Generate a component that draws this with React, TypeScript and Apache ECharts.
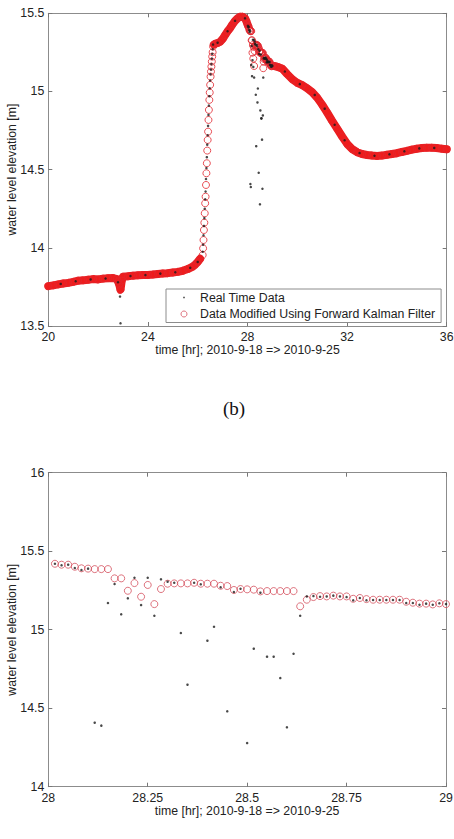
import React, { useEffect, useRef } from 'react';
import * as echarts from 'echarts';

const FONT = '"Liberation Sans", Arial, Helvetica, sans-serif';

// ---------- Panel (a): 20 - 36 hr ----------
// dense band before the rise (Kalman filtered data)
const bandATimes = [20.0, 20.2, 20.4, 20.6, 20.8, 21.0, 21.2, 21.4, 21.6, 21.8, 22.0, 22.2, 22.4, 22.6, 22.75, 22.8, 22.85, 22.9, 22.95, 23.0, 23.2, 23.4, 23.6, 23.8, 24.0, 24.2, 24.4, 24.6, 24.8, 25.0, 25.2, 25.4, 25.6, 25.8, 25.9, 26.0, 26.1];
const bandAValues = [13.755, 13.760, 13.766, 13.772, 13.776, 13.782, 13.790, 13.792, 13.796, 13.800, 13.798, 13.803, 13.806, 13.807, 13.800, 13.785, 13.765, 13.732, 13.790, 13.815, 13.818, 13.822, 13.824, 13.826, 13.826, 13.829, 13.833, 13.836, 13.838, 13.842, 13.846, 13.853, 13.864, 13.880, 13.893, 13.910, 13.930];
// real time readings visible as dark specks inside the band
const speckATimes = [20.5, 21.1, 21.7, 22.3, 22.8, 23.3, 23.9, 24.5, 25.1, 25.7, 26.0];
const speckAValues = [13.769, 13.786, 13.798, 13.804, 13.780, 13.820, 13.826, 13.835, 13.844, 13.872, 13.910];
// outliers of the real time data at the small dip
const dipOutlierTimes = [22.88, 22.9];
const dipOutlierValues = [13.688, 13.517];
// steep rise, one reading per minute
const riseTimes = [26.200, 26.217, 26.233, 26.250, 26.267, 26.283, 26.300, 26.317, 26.333, 26.350, 26.367, 26.383, 26.400, 26.417, 26.433, 26.450, 26.467, 26.483, 26.500, 26.517, 26.533, 26.550, 26.567, 26.583, 26.600, 26.617];
const riseKalman = [13.954, 13.997, 14.050, 14.114, 14.161, 14.221, 14.285, 14.327, 14.402, 14.477, 14.541, 14.622, 14.690, 14.743, 14.818, 14.882, 14.946, 14.993, 15.042, 15.095, 15.127, 15.159, 15.191, 15.223, 15.251, 15.287];
const riseReal = [13.975, 14.020, 14.080, 14.140, 14.190, 14.250, 14.310, 14.360, 14.440, 14.510, 14.580, 14.660, 14.720, 14.780, 14.850, 14.910, 14.970, 15.020, 15.070, 15.110, 15.140, 15.175, 15.210, 15.240, 15.270, 15.300];
// band from the shoulder to the peak
const bandCTimes = [26.65, 26.7, 26.8, 26.9, 27.0, 27.1, 27.2, 27.3, 27.4, 27.5, 27.6, 27.7, 27.8, 27.9, 27.95, 28.0];
const bandCValues = [15.300, 15.305, 15.310, 15.318, 15.335, 15.360, 15.385, 15.405, 15.430, 15.452, 15.468, 15.478, 15.478, 15.468, 15.452, 15.430];
const speckCTimes = [26.8, 27.2, 27.5, 27.9];
const speckCValues = [15.312, 15.385, 15.452, 15.468];
// band of the recession
const bandETimes = [29.1, 29.2, 29.4, 29.6, 29.8, 30.0, 30.2, 30.4, 30.6, 30.8, 31.0, 31.2, 31.4, 31.6, 31.8, 32.0, 32.2, 32.4, 32.6, 32.8, 33.0, 33.2, 33.4, 33.6, 33.8, 34.0, 34.2, 34.4, 34.6, 34.8, 35.0, 35.2, 35.4, 35.6, 35.8, 36.0];
const bandEValues = [15.162, 15.158, 15.145, 15.110, 15.078, 15.055, 15.040, 15.020, 14.995, 14.960, 14.915, 14.865, 14.812, 14.762, 14.712, 14.665, 14.632, 14.612, 14.600, 14.594, 14.590, 14.588, 14.590, 14.595, 14.600, 14.605, 14.613, 14.620, 14.628, 14.634, 14.638, 14.640, 14.640, 14.638, 14.634, 14.630];
const speckETimes = [29.5, 30.1, 30.7, 31.1, 31.5, 31.9, 32.5, 33.1, 33.7, 34.3, 34.9, 35.5];
const speckEValues = [15.128, 15.047, 14.978, 14.890, 14.787, 14.688, 14.606, 14.589, 14.598, 14.617, 14.636, 14.639];

// ---------- Panel (b): 28 - 29 hr, one reading per minute ----------
const zoomStart = 28;
const zoomKalman = [15.420, 15.414, 15.414, 15.401, 15.391, 15.389, 15.386, 15.386, 15.386, 15.327, 15.327, 15.248, 15.297, 15.210, 15.285, 15.163, 15.259, 15.293, 15.295, 15.295, 15.295, 15.299, 15.293, 15.293, 15.293, 15.280, 15.278, 15.253, 15.259, 15.257, 15.255, 15.244, 15.246, 15.246, 15.246, 15.246, 15.246, 15.149, 15.191, 15.208, 15.214, 15.212, 15.217, 15.212, 15.212, 15.197, 15.202, 15.195, 15.191, 15.191, 15.191, 15.191, 15.191, 15.178, 15.172, 15.166, 15.166, 15.161, 15.168, 15.163];
const zoomReal = [15.420, 15.410, 15.414, 15.393, 15.380, 15.389, 14.408, 14.389, 15.170, 15.291, 15.098, 15.200, 15.331, 15.157, 15.331, 15.089, 15.321, 15.306, 15.299, 14.979, 14.650, 15.299, 15.289, 14.930, 15.019, 15.270, 14.480, 15.240, 15.261, 14.278, 14.879, 15.236, 14.828, 14.828, 14.692, 14.378, 14.847, 15.089, 15.212, 15.214, 15.210, 15.212, 15.217, 15.212, 15.208, 15.187, 15.202, 15.187, 15.189, 15.189, 15.189, 15.189, 15.189, 15.170, 15.170, 15.159, 15.166, 15.159, 15.168, 15.163];
const zoomTimes = zoomKalman.map((_, i) => zoomStart + (i + 1) / 60);

const xTicksA = { min: 20, max: 36, interval: 4 };
const yTicksA = { min: 13.5, max: 15.5, interval: 0.5 };
const xTicksB = { min: 28, max: 29, interval: 0.25 };
const yTicksB = { min: 14, max: 16, interval: 0.5 };

const X_NAME = 'time [hr]; 2010-9-18 => 2010-9-25';
const Y_NAME = 'water level elevation [m]';
const S_REAL = 'Real Time Data';
const S_KAL = 'Data Modified Using Forward Kalman Filter';

const zip = (t: number[], v: number[]) => t.map((x, i) => [x, v[i]]);

const AXIS_COLOR = '#8c8c8c';
const TEXT_COLOR = '#222';
const BAND_RED = '#ee1c1c';
const RING_RED_A = '#e2262e';
const RING_RED_B = '#d4505e';
const DOT = '#1a1a1a';

function axisBase(extra: any) {
  return {
    type: 'value',
    axisLine: { show: true, onZero: false, lineStyle: { color: AXIS_COLOR, width: 1 } },
    axisTick: { show: true, inside: true, length: 4, lineStyle: { color: '#777' } },
    splitLine: { show: false },
    axisLabel: { color: TEXT_COLOR, fontSize: 12.3, fontFamily: FONT },
    ...extra,
  };
}

export default function App() {
  const ref = useRef<HTMLDivElement>(null);
  useEffect(() => {
    if (!ref.current) return;
    const chart = echarts.init(ref.current, undefined, { renderer: 'svg' });

    const kalmanA = [
      ...zip(bandATimes, bandAValues),
      ...zip(riseTimes, riseKalman),
      ...zip(bandCTimes, bandCValues),
      ...zip(zoomTimes, zoomKalman),
      ...zip(bandETimes, bandEValues),
    ];
    const realA = [
      ...zip(speckATimes, speckAValues),
      ...zip(dipOutlierTimes, dipOutlierValues),
      ...zip(riseTimes, riseReal),
      ...zip(speckCTimes, speckCValues),
      ...zip(zoomTimes, zoomReal),
      ...zip(speckETimes, speckEValues),
    ];

    const bandLine = (name: string, data: number[][]) => ({
      name,
      type: 'line',
      xAxisIndex: 0,
      yAxisIndex: 0,
      data,
      showSymbol: false,
      symbol: 'none',
      silent: true,
      z: 1,
      lineStyle: { color: BAND_RED, width: 8, cap: 'round', join: 'round' },
    });

    const yName = {
      name: Y_NAME, nameLocation: 'middle', nameGap: 30, nameRotate: 90, nameMoveOverlap: false,
      nameTextStyle: { color: TEXT_COLOR, fontSize: 12.3, fontFamily: FONT },
    };
    const xName = {
      name: X_NAME, nameLocation: 'middle', nameGap: 18, nameMoveOverlap: false,
      nameTextStyle: { color: TEXT_COLOR, fontSize: 12.3, fontFamily: FONT },
    };

    const option: any = {
      animation: false,
      backgroundColor: '#fff',
      textStyle: { fontFamily: FONT },
      grid: [
        { left: 48.3, top: 13.3, width: 398.4, height: 312.7, containLabel: false, outerBoundsMode: 'none' },
        { left: 48.3, top: 472.7, width: 397.7, height: 314, containLabel: false, outerBoundsMode: 'none' },
      ],
      xAxis: [
        axisBase({
          gridIndex: 0, position: 'bottom', ...xTicksA,
          axisLabel: { color: TEXT_COLOR, fontSize: 12.3, fontFamily: FONT, margin: 5 },
          ...xName,
        }),
        axisBase({ gridIndex: 0, position: 'top', ...xTicksA, axisLabel: { show: false } }),
        axisBase({
          gridIndex: 1, position: 'bottom', ...xTicksB,
          axisLabel: { color: TEXT_COLOR, fontSize: 12.3, fontFamily: FONT, margin: 5 },
          ...xName,
        }),
        axisBase({ gridIndex: 1, position: 'top', ...xTicksB, axisLabel: { show: false } }),
      ],
      yAxis: [
        axisBase({
          gridIndex: 0, position: 'left', ...yTicksA,
          axisLabel: { color: TEXT_COLOR, fontSize: 12.3, fontFamily: FONT, margin: 4 },
          ...yName,
        }),
        axisBase({ gridIndex: 0, position: 'right', ...yTicksA, axisLabel: { show: false } }),
        axisBase({
          gridIndex: 1, position: 'left', ...yTicksB,
          axisLabel: { color: TEXT_COLOR, fontSize: 12.3, fontFamily: FONT, margin: 4 },
          ...yName,
        }),
        axisBase({ gridIndex: 1, position: 'right', ...yTicksB, axisLabel: { show: false } }),
      ],
      legend: {
        show: true,
        orient: 'vertical',
        left: 166,
        top: 289,
        selectedMode: false,
        backgroundColor: '#fff',
        borderColor: AXIS_COLOR,
        borderWidth: 1,
        borderRadius: 0,
        padding: [1.5, 6, 1.5, 7],
        itemWidth: 22,
        itemHeight: 6,
        itemGap: 2.5,
        textStyle: { color: TEXT_COLOR, fontSize: 12.3, fontFamily: FONT, lineHeight: 14 },
        data: [
          { name: S_REAL, icon: 'path://M0,0M22,6M10.2,2.2h1.6v1.6h-1.6z' },
          { name: S_KAL, icon: 'circle', itemStyle: { color: 'rgba(0,0,0,0)', borderColor: RING_RED_B, borderWidth: 1 } },
        ],
      },
      graphic: [
        {
          type: 'text',
          x: 234,
          y: 408,
          style: {
            text: '(b)',
            font: '19px "Liberation Serif", "Times New Roman", serif',
            fill: '#111',
            textAlign: 'center',
            textVerticalAlign: 'middle',
          },
        },
      ],
      series: [
        bandLine('bandA', zip(bandATimes, bandAValues)),
        bandLine('bandC', zip(bandCTimes, bandCValues)),
        bandLine('bandE', zip(bandETimes, bandEValues)),
        {
          name: S_KAL, type: 'scatter', xAxisIndex: 0, yAxisIndex: 0,
          data: kalmanA, symbol: 'circle', symbolSize: 7, z: 2,
          itemStyle: { color: 'rgba(0,0,0,0)', borderColor: RING_RED_A, borderWidth: 1 },
        },
        {
          name: S_REAL, type: 'scatter', xAxisIndex: 0, yAxisIndex: 0,
          data: realA, symbol: 'circle', symbolSize: 2.5, z: 3,
          itemStyle: { color: DOT },
        },
        {
          name: S_KAL, type: 'scatter', xAxisIndex: 2, yAxisIndex: 2,
          data: zip(zoomTimes, zoomKalman), symbol: 'circle', symbolSize: 7, z: 2,
          itemStyle: { color: 'rgba(0,0,0,0)', borderColor: RING_RED_B, borderWidth: 1 },
        },
        {
          name: S_REAL, type: 'scatter', xAxisIndex: 2, yAxisIndex: 2,
          data: zip(zoomTimes, zoomReal), symbol: 'circle', symbolSize: 2.5, z: 3,
          itemStyle: { color: DOT },
        },
      ],
    };
    chart.setOption(option);
    return () => chart.dispose();
  }, []);

  return (
    <div
      ref={ref}
      style={{ position: 'absolute', left: 0, top: 0, width: 454, height: 839, background: '#fff' }}
    />
  );
}
